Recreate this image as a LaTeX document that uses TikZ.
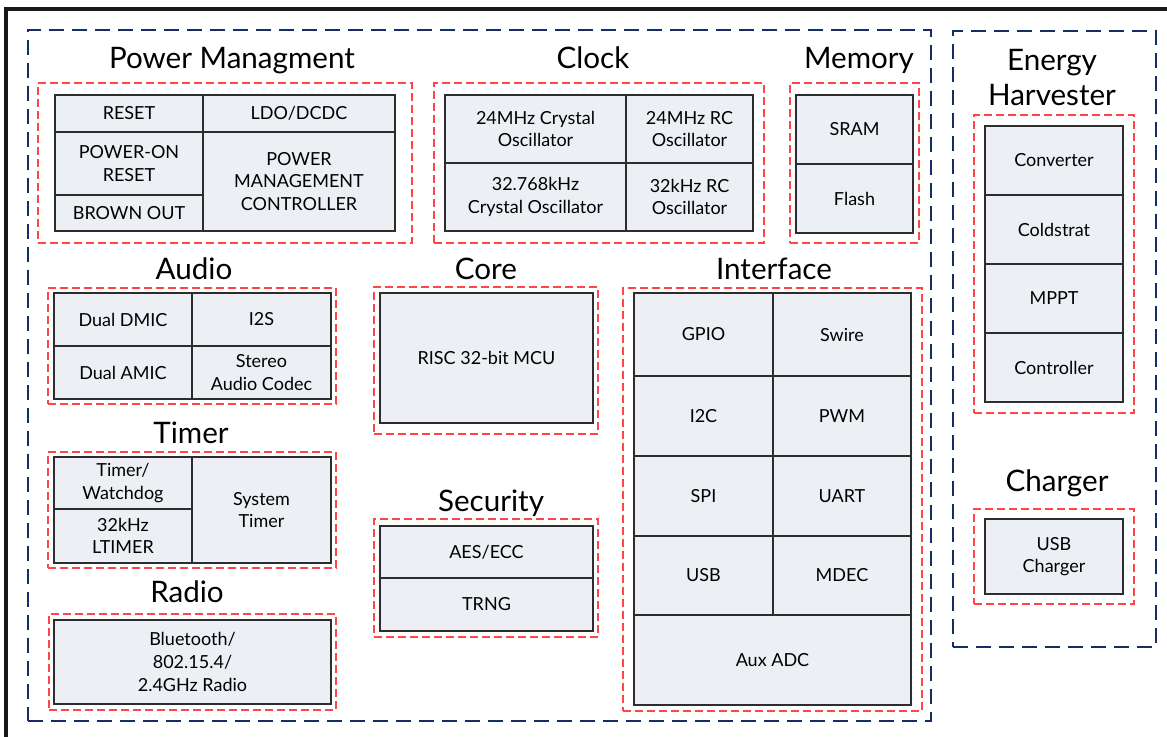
\documentclass[tikz,border=0pt]{standalone}
\usepackage{fontspec}
\setmainfont{Lato}
\definecolor{chipnavy}{RGB}{22, 44, 100}
\definecolor{groupred}{RGB}{255, 70, 70}
\definecolor{cellfill}{RGB}{236, 240, 245}
\definecolor{celledge}{RGB}{45, 45, 45}
\definecolor{framegray}{RGB}{25, 25, 25}
\usepackage{tikz}
\usetikzlibrary{fit}

\tikzset{
  chipbox/.style={draw=chipnavy, line width=1.25pt, dash pattern=on 7.5pt off 4pt, inner sep=0pt},
  groupbox/.style={draw=groupred, line width=0.7pt, dash pattern=on 4pt off 2pt, inner sep=0pt},
  cell/.style={draw=celledge, fill=cellfill, line width=0.7pt, inner sep=0pt, align=center, font=\fontsize{9}{11.3}\selectfont},
  grouptitle/.style={anchor=base, inner sep=0pt, align=center, font=\fontsize{14.8}{17.5}\selectfont}
}
% cell between two corners (picture units): name, x1, y1, x2, y2, text
\newcommand{\cellnode}[6]{%
  \node[cell, minimum width={(#4-#2)*0.5pt}, minimum height={(#5-#3)*0.5pt}] (#1) at ({(#2+#4)/2},{(#3+#5)/2}) {#6};}

\begin{document}
\begin{tikzpicture}[x=0.5pt, y=-0.5pt]
  \useasboundingbox (0,0) rectangle (1167,736);
  \clip (0,0) rectangle (1167,736);

  % outer frame and chip outlines
  \draw[draw=framegray, line width=1.6pt] (6,9) rectangle (1190,760);
  \node[chipbox, fit={(28,30) (931,721)}] (soc) {};
  \node[chipbox, fit={(953,31) (1156,647)}] (pmu) {};

  % Power management
  \node[grouptitle] (pmtitle) at (232,68) {Power Managment};
  \node[groupbox, fit={(38,83) (412,243)}] (pmgroup) {};
  \cellnode{reset}{55}{95}{203}{132}{RESET}
  \cellnode{poreset}{55}{132}{203}{195}{POWER-ON\\RESET}
  \cellnode{brownout}{55}{195}{203}{231}{BROWN OUT}
  \cellnode{ldo}{203}{95}{395}{132}{LDO/DCDC}
  \cellnode{pmc}{203}{132}{395}{231}{POWER\\MANAGEMENT\\CONTROLLER}

  % Clock
  \node[grouptitle] (clocktitle) at (593,68) {Clock};
  \node[groupbox, fit={(434,83) (764,243)}] (clockgroup) {};
  \cellnode{xtal24}{445}{95}{626}{163}{24MHz Crystal\\Oscillator}
  \cellnode{rc24}{626}{95}{753}{163}{24MHz RC\\Oscillator}
  \cellnode{xtal32}{445}{163}{626}{231}{32.768kHz\\Crystal Oscillator}
  \cellnode{rc32}{626}{163}{753}{231}{32kHz RC\\Oscillator}

  % Memory
  \node[grouptitle] (memtitle) at (859,68) {Memory};
  \node[groupbox, fit={(790,83) (919,243)}] (memgroup) {};
  \cellnode{sram}{796}{95}{913}{164}{SRAM}
  \cellnode{flash}{796}{164}{913}{233}{Flash}

  % Energy harvester
  \node[grouptitle, anchor=center] (ehtitle) at (1052,77.5) {Energy\\Harvester};
  \node[groupbox, fit={(974,115) (1134,413)}] (ehgroup) {};
  \cellnode{converter}{985}{126}{1123}{195}{Converter}
  \cellnode{coldstart}{985}{195}{1123}{264}{Coldstrat}
  \cellnode{mppt}{985}{264}{1123}{333}{MPPT}
  \cellnode{ehctrl}{985}{333}{1123}{402}{Controller}

  % Charger
  \node[grouptitle] (chargertitle) at (1057,491) {Charger};
  \node[groupbox, fit={(974,509) (1134,604)}] (chargergroup) {};
  \cellnode{usbcharger}{985}{519}{1123}{594}{USB\\Charger}

  % Audio
  \node[grouptitle] (audiotitle) at (194,279) {Audio};
  \node[groupbox, fit={(48,288) (336,404)}] (audiogroup) {};
  \cellnode{dmic}{54}{293}{192}{346}{Dual DMIC}
  \cellnode{itwos}{192}{293}{331}{346}{I2S}
  \cellnode{amic}{54}{346}{192}{399}{Dual AMIC}
  \cellnode{codec}{192}{346}{331}{399}{Stereo\\Audio Codec}

  % Timer
  \node[grouptitle] (timertitle) at (191,443) {Timer};
  \node[groupbox, fit={(48,452) (336,568)}] (timergroup) {};
  \cellnode{watchdog}{54}{457}{192}{509}{Timer/\\Watchdog}
  \cellnode{ltimer}{54}{509}{192}{563}{32kHz\\LTIMER}
  \cellnode{systimer}{192}{457}{331}{563}{System\\Timer}

  % Radio
  \node[grouptitle] (radiotitle) at (187,602) {Radio};
  \node[groupbox, fit={(49,614) (336,710)}] (radiogroup) {};
  \cellnode{radio}{54}{620}{331}{704}{Bluetooth/\\802.15.4/\\2.4GHz Radio}

  % Core
  \node[grouptitle] (coretitle) at (486,279) {Core};
  \node[groupbox, fit={(374,287) (598,434)}] (coregroup) {};
  \cellnode{mcu}{380}{293}{593}{423}{RISC 32-bit MCU}

  % Security
  \node[grouptitle] (sectitle) at (491,511) {Security};
  \node[groupbox, fit={(374,519) (598,637)}] (secgroup) {};
  \cellnode{aes}{380}{526}{593}{578}{AES/ECC}
  \cellnode{trng}{380}{578}{593}{631}{TRNG}

  % Interface
  \node[grouptitle] (iftitle) at (774,279) {Interface};
  \node[groupbox, fit={(623,288) (922,711)}] (ifgroup) {};
  \cellnode{gpio}{634}{293}{773}{376}{GPIO}
  \cellnode{swire}{773}{293}{911}{376}{Swire}
  \cellnode{itwoc}{634}{376}{773}{456}{I2C}
  \cellnode{pwm}{773}{376}{911}{456}{PWM}
  \cellnode{spi}{634}{456}{773}{536}{SPI}
  \cellnode{uart}{773}{456}{911}{536}{UART}
  \cellnode{usb}{634}{536}{773}{615}{USB}
  \cellnode{mdec}{773}{536}{911}{615}{MDEC}
  \cellnode{auxadc}{634}{615}{911}{705}{Aux ADC}
\end{tikzpicture}
\end{document}
